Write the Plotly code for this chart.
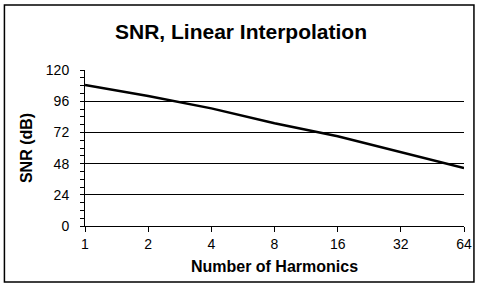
import plotly.graph_objects as go
import math

harmonics = [1, 2, 4, 8, 16, 32, 64]
snr_db = [108.5, 100.0, 90.5, 79.0, 69.0, 57.0, 44.5]
y_ticks = [0, 24, 48, 72, 96, 120]
x_tick_labels = ["1", "2", "4", "8", "16", "32", "64"]

W, H = 484, 288
L, R, T, B = 85, 18, 70, 62
pw, ph = W - L - R, H - T - B

def px_x(x):
    return (x - L) / pw

def px_y(y):
    return (H - B - y) / ph

FONT = "Arial, Liberation Sans, sans-serif"

fig = go.Figure()
fig.add_trace(go.Scatter(
    x=harmonics, y=snr_db, mode="lines",
    line=dict(color="black", width=2.5),
    showlegend=False, hoverinfo="skip",
))

fig.update_layout(
    width=W, height=H,
    margin=dict(l=L, r=R, t=T, b=B),
    paper_bgcolor="white", plot_bgcolor="white",
    font=dict(family=FONT, color="black", size=13),
    title=dict(text="<b>SNR, Linear Interpolation</b>", x=241 / W,
               xanchor="center", y=1 - 32 / H, yanchor="middle",
               font=dict(size=21, family=FONT, color="black")),
    xaxis=dict(
        type="log", range=[0, math.log10(64)],
        tickvals=harmonics, ticktext=x_tick_labels,
        showgrid=False, zeroline=False,
        showline=True, linecolor="black", linewidth=1,
        ticks="outside", ticklen=5, tickcolor="black", tickwidth=1,
        tickfont=dict(size=14, family=FONT),
        title=dict(text="<b>Number of Harmonics</b>", font=dict(size=16, family=FONT), standoff=10),
    ),
    yaxis=dict(
        range=[0, 120], tickvals=y_ticks,
        showgrid=True, gridcolor="black", gridwidth=1,
        zeroline=False,
        showline=True, linecolor="black", linewidth=1,
        ticks="outside", ticklen=4, tickcolor="black", tickwidth=1,
        minor=dict(dtick=6, ticks="outside", ticklen=4, tickcolor="black", showgrid=False),
        tickfont=dict(size=14, family=FONT),
        ticklabelstandoff=8,
        title=dict(text="<b>SNR (dB)</b>", font=dict(size=16, family=FONT), standoff=9),
    ),
    shapes=[dict(
        type="rect", xref="paper", yref="paper",
        x0=px_x(4), x1=px_x(476), y0=px_y(282), y1=px_y(5),
        line=dict(color="black", width=1.5), fillcolor="rgba(0,0,0,0)", layer="above",
    )],
)

fig.write_html("out.html")
